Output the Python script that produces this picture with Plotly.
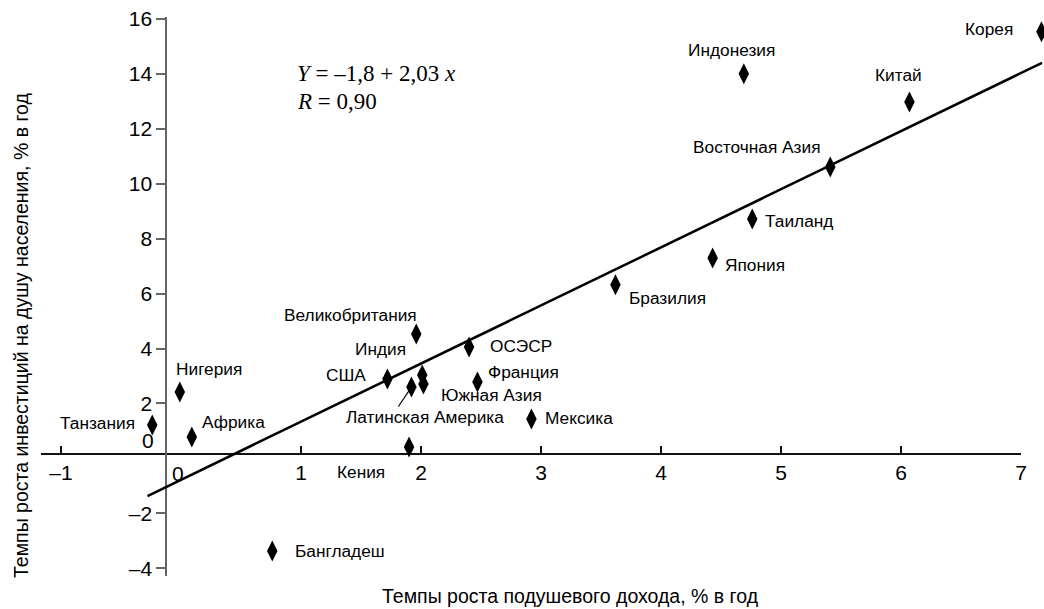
import plotly.graph_objects as go

# ---- data ----
countries = ["Корея", "Индонезия", "Китай", "Восточная Азия", "Таиланд", "Япония",
             "Бразилия", "Великобритания", "Индия", "ОСЭСР", "США", "Южная Азия",
             "Франция", "Латинская Америка", "Мексика", "Кения", "Бангладеш",
             "Нигерия", "Африка", "Танзания"]
income_growth = [7.17, 4.69, 6.07, 5.41, 4.76, 4.43, 3.62, 1.96, 2.01, 2.40, 1.72, 2.02,
                 2.47, 1.92, 2.92, 1.90, 0.76, -0.01, 0.09, -0.24]
invest_growth = [15.53, 14.00, 12.98, 10.61, 8.72, 7.30, 6.32, 4.53, 3.04, 4.06, 2.89, 2.71,
                 2.78, 2.60, 1.44, 0.42, -3.37, 2.42, 0.78, 1.22]

# regression line as drawn (end points)
line_x = [-0.28, 7.175]
line_y = [-1.37, 14.40]

x_ticks = [-1, 1, 2, 3, 4, 5, 6, 7]
y_ticks = [-4, -2, 2, 4, 6, 8, 10, 12, 14, 16]

# ---- style / layout ----
FONT = "Liberation Sans, Arial, sans-serif"
SERIF = "Liberation Serif, Times New Roman, serif"
LABEL_SIZE = 17.3
TICK_SIZE = 21
X_MIN, X_AXIS_END = -1.167, 7.0
Y_RANGE = [-4.28, 16.07]
Y_AXIS_AT_X = -0.125
X_AXIS_AT_Y = 0.16
PX_PER_UNIT = 120.0

W, H = 1044, 609
ML, MT, MR = 41, 17, 0
MB = H - 576
PW, PH = W - ML - MR, H - MT - MB
X_DATA_RANGE = [X_MIN, X_MIN + PW / PX_PER_UNIT]          # data axis spans whole width
AXIS_DOMAIN_END = (X_AXIS_END - X_MIN) * PX_PER_UNIT / PW  # drawn axis ends at 7

# label placement: (xanchor, dx px, dy px up)
label_pos = {
    "Корея": ("right", -26, 3),
    "Индонезия": ("center", -12, 24),
    "Китай": ("center", -11, 27),
    "Восточная Азия": ("right", -7, 20),
    "Таиланд": ("left", 11, -2),
    "Япония": ("left", 10, -7),
    "Бразилия": ("left", 12, -13),
    "Великобритания": ("right", 3, 19),
    "Индия": ("right", -14, 26),
    "ОСЭСР": ("left", 19, 1),
    "США": ("right", -19, 4),
    "Южная Азия": ("left", 16, -11),
    "Франция": ("left", 9, 10),
    "Латинская Америка": ("center", 14, -30),
    "Мексика": ("left", 12, 1),
    "Кения": ("right", -22, -25),
    "Бангладеш": ("left", 21, 0),
    "Нигерия": ("left", -6, 23),
    "Африка": ("left", 8, 15),
    "Танзания": ("right", -15, 2),
}


def fmt(v):
    return ("–" + str(abs(v))) if v < 0 else str(v)


def paper_x(px):
    return (px - ML) / PW


def paper_y(py):
    return 1 - (py - MT) / PH


fig = go.Figure()
# empty trace so that the visible (short) x axis subplot is created
fig.add_trace(go.Scatter(x=[], y=[], xaxis="x", yaxis="y", showlegend=False,
                         hoverinfo="skip"))
fig.add_trace(go.Scatter(x=line_x, y=line_y, mode="lines", xaxis="x2", yaxis="y",
                         line=dict(color="black", width=2.5), hoverinfo="skip",
                         showlegend=False, cliponaxis=False))
fig.add_trace(go.Scatter(x=income_growth, y=invest_growth, mode="markers",
                         xaxis="x2", yaxis="y",
                         marker=dict(symbol="diamond-tall", size=15, color="black"),
                         text=countries, showlegend=False, cliponaxis=False))

annotations = []
for name, xv, yv in zip(countries, income_growth, invest_growth):
    xa, dx, dy = label_pos[name]
    annotations.append(dict(x=xv, y=yv, xref="x2", yref="y", text=name, showarrow=False,
                            xanchor=xa, yanchor="middle", xshift=dx, yshift=dy,
                            font=dict(family=FONT, size=LABEL_SIZE, color="black")))

# leader line for Latin America
li = countries.index("Латинская Америка")
annotations.append(dict(x=income_growth[li], y=invest_growth[li], xref="x2", yref="y",
                        text="", showarrow=True, arrowhead=0, arrowwidth=1.2,
                        arrowcolor="black", ax=-14, ay=21, standoff=4))

# zero labels
annotations.append(dict(x=0, y=X_AXIS_AT_Y, xref="x2", yref="y", text="0", showarrow=False,
                        xanchor="center", yanchor="top", xshift=-3, yshift=-6,
                        font=dict(family=FONT, size=TICK_SIZE, color="black")))
annotations.append(dict(x=Y_AXIS_AT_X, y=0, xref="x2", yref="y", text="0", showarrow=False,
                        xanchor="right", yanchor="middle", xshift=-10, yshift=18,
                        font=dict(family=FONT, size=TICK_SIZE, color="black")))

# equation
annotations.append(dict(x=0.95, y=14.03, xref="x2", yref="y",
                        text="<i>Y</i> = –1,8 + 2,03 <i>x</i>", showarrow=False,
                        xanchor="left", yanchor="middle",
                        font=dict(family=SERIF, size=23, color="black")))
annotations.append(dict(x=0.95, y=13.01, xref="x2", yref="y",
                        text="<i>R</i> = 0,90", showarrow=False,
                        xanchor="left", yanchor="middle",
                        font=dict(family=SERIF, size=23, color="black")))

# axis titles
annotations.append(dict(x=paper_x(570), y=paper_y(596), xref="paper", yref="paper",
                        xanchor="center", yanchor="middle",
                        text="Темпы роста подушевого дохода, % в год", showarrow=False,
                        font=dict(family=FONT, size=19.5, color="black")))
annotations.append(dict(x=paper_x(21), y=paper_y(335), xref="paper", yref="paper",
                        xanchor="center", yanchor="middle", textangle=-90,
                        text="Темпы роста инвестиций на душу населения, % в год",
                        showarrow=False, font=dict(family=FONT, size=19.5, color="black")))

fig.update_layout(
    width=W, height=H,
    margin=dict(l=ML, r=MR, t=MT, b=MB, autoexpand=False),
    paper_bgcolor="white", plot_bgcolor="rgba(0,0,0,0)",
    annotations=annotations,
    # visible x axis: crosses at y = X_AXIS_AT_Y, ends at x = 7
    xaxis=dict(range=[X_MIN, X_AXIS_END], domain=[0, AXIS_DOMAIN_END], anchor="free",
               position=(X_AXIS_AT_Y - Y_RANGE[0]) / (Y_RANGE[1] - Y_RANGE[0]),
               showline=True, linecolor="#111", linewidth=1.5,
               ticks="inside", ticklen=7, tickcolor="#111", tickwidth=1.5,
               tickvals=x_ticks, ticktext=[fmt(v) for v in x_ticks],
               tickfont=dict(family=FONT, size=TICK_SIZE, color="black"),
               ticklabeloverflow="allow",
               showgrid=False, zeroline=False, automargin=False, fixedrange=True),
    # data x axis: same scale, spans the full width (hidden)
    xaxis2=dict(range=X_DATA_RANGE, domain=[0, 1], anchor="y", visible=False,
                showgrid=False, zeroline=False, fixedrange=True),
    yaxis=dict(range=Y_RANGE, anchor="free",
               position=(Y_AXIS_AT_X - X_MIN) * PX_PER_UNIT / PW,
               showline=True, linecolor="#666", linewidth=1.5,
               ticks="outside", ticklen=9, tickcolor="#666", tickwidth=1.5,
               tickvals=y_ticks, ticktext=[fmt(v) for v in y_ticks],
               tickfont=dict(family=FONT, size=TICK_SIZE, color="black"),
               ticklabeloverflow="allow",
               showgrid=False, zeroline=False, automargin=False, fixedrange=True),
)

# remove the default page margin so the figure fills the window exactly
fig.write_html("out.html", config={"displayModeBar": False},
               post_script="document.body.style.margin='0';")
